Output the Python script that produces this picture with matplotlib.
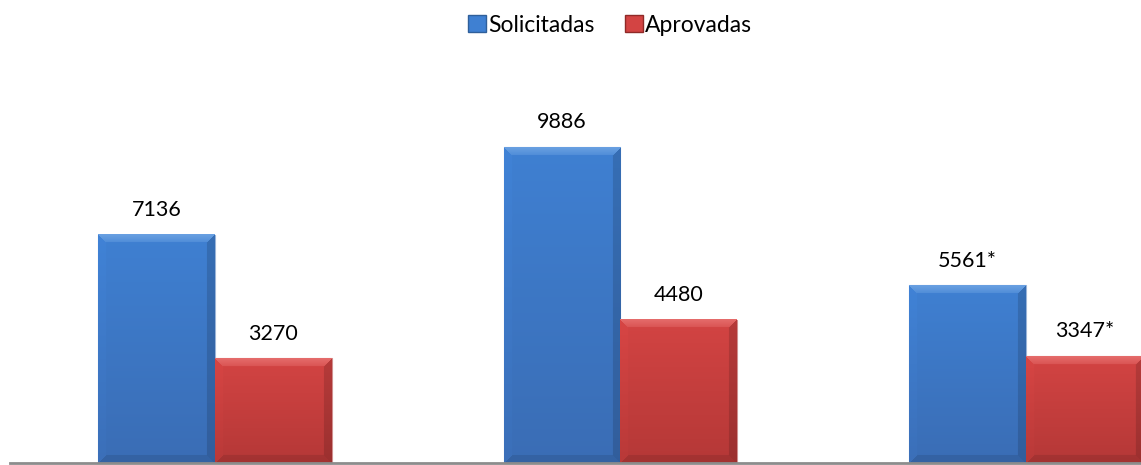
import numpy as np
import matplotlib
matplotlib.use("Agg")
import matplotlib.pyplot as plt
from matplotlib.patches import Patch
from matplotlib.colors import to_rgb

# data
categories = ["A", "B", "C"]
solicitadas = [7136, 9886, 5561]
aprovadas = [3270, 4480, 3347]
labels_sol = ["7136", "9886", "5561*"]
labels_apr = ["3270", "4480", "3347*"]
series_names = ["Solicitadas", "Aprovadas"]

plt.rcParams["font.family"] = ["Lato", "DejaVu Sans"]

W, H = 1141, 465
fig = plt.figure(figsize=(W / 100, H / 100), dpi=100)
ax = fig.add_axes([10 / W, 2 / H, 1 - 10 / W, 411 / H])

x = np.arange(len(categories))
bw = 0.2885
ax.set_xlim(-0.5055, 2.2836)
ax.set_ylim(0, 12860)

blue = ("#4e8fdc", "#3f80d2", "#3a6db5")
red = ("#e05250", "#d34443", "#b53837")


def shade(bar, cols):
    # pixel-sized bevel image laid over the bar
    fig.canvas.draw()
    (x0, y0), (x1, y1) = ax.transData.transform(
        [(bar.get_x(), 0), (bar.get_x() + bar.get_width(), bar.get_height())])
    wpx, hpx = max(int(x1 - x0), 2), max(int(y1 - y0), 2)
    top, mid, bot = [np.array(to_rgb(c)) for c in cols]
    t = np.linspace(0, 1, hpx)[:, None]
    img = (mid * (1 - t) + bot * t)[:, None, :] * np.ones((1, wpx, 1))
    b = 8
    yy, xx = np.mgrid[0:hpx, 0:wpx]
    d_top = yy
    d_bot = hpx - 1 - yy
    d_l = xx
    d_r = wpx - 1 - xx
    m = np.minimum.reduce([d_top, d_bot, d_l, d_r])
    edge = m < b
    topband = edge & (d_top == m)
    rband = edge & (d_r == m) & ~topband
    lband = edge & (d_l == m) & ~topband & ~rband
    bband = edge & ~topband & ~rband & ~lband
    # top bevel fades from light to body colour
    fade = (1 - d_top[topband] / b)[:, None]
    img[topband] = (top * 0.85 + 0.15) * (0.4 + 0.6 * fade) + img[topband] * (0.6 - 0.6 * fade)
    img[rband] = img[rband] * 0.86
    img[lband] = img[lband] * 1.02
    img[bband] = img[bband] * 0.9
    img = np.clip(img, 0, 1)
    ax.imshow(img, extent=(bar.get_x(), bar.get_x() + bar.get_width(), 0, bar.get_height()),
              aspect="auto", zorder=3, interpolation="bilinear")


bars1 = ax.bar(x - bw / 2, solicitadas, bw, color=blue[1], edgecolor="#9bb5d8", linewidth=0.8, zorder=2)
bars2 = ax.bar(x + bw / 2, aprovadas, bw, color=red[1], edgecolor="#d09090", linewidth=0.8, zorder=2)
for b in bars1:
    shade(b, blue)
for b in bars2:
    shade(b, red)
ax.set_xlim(-0.5055, 2.2836)
ax.set_ylim(0, 12860)

for bars, labs in ((bars1, labels_sol), (bars2, labels_apr)):
    for b, lab in zip(bars, labs):
        ax.annotate(lab, (b.get_x() + b.get_width() / 2, b.get_height()),
                    xytext=(0, 10.5), textcoords="offset points", ha="center", va="bottom",
                    fontsize=15.5, color="#000000", zorder=5)

for s in ["top", "right", "left"]:
    ax.spines[s].set_visible(False)
ax.spines["bottom"].set_color("#8c8c8c")
ax.spines["bottom"].set_linewidth(2)
ax.spines["bottom"].set_zorder(6)
ax.set_xticks([])
ax.set_yticks([])
ax.patch.set_alpha(0)

handles = [Patch(facecolor=blue[1], edgecolor="#2f5f9a"), Patch(facecolor=red[1], edgecolor="#8f2a28")]
fig.legend(handles, series_names, loc="center", bbox_to_anchor=(610 / W, 1 - 25 / H), ncol=2,
           frameon=False, fontsize=16.5, handlelength=0.8, handleheight=0.8, handletextpad=0.1,
           columnspacing=1.3)

fig.savefig("out.png", dpi=100)
